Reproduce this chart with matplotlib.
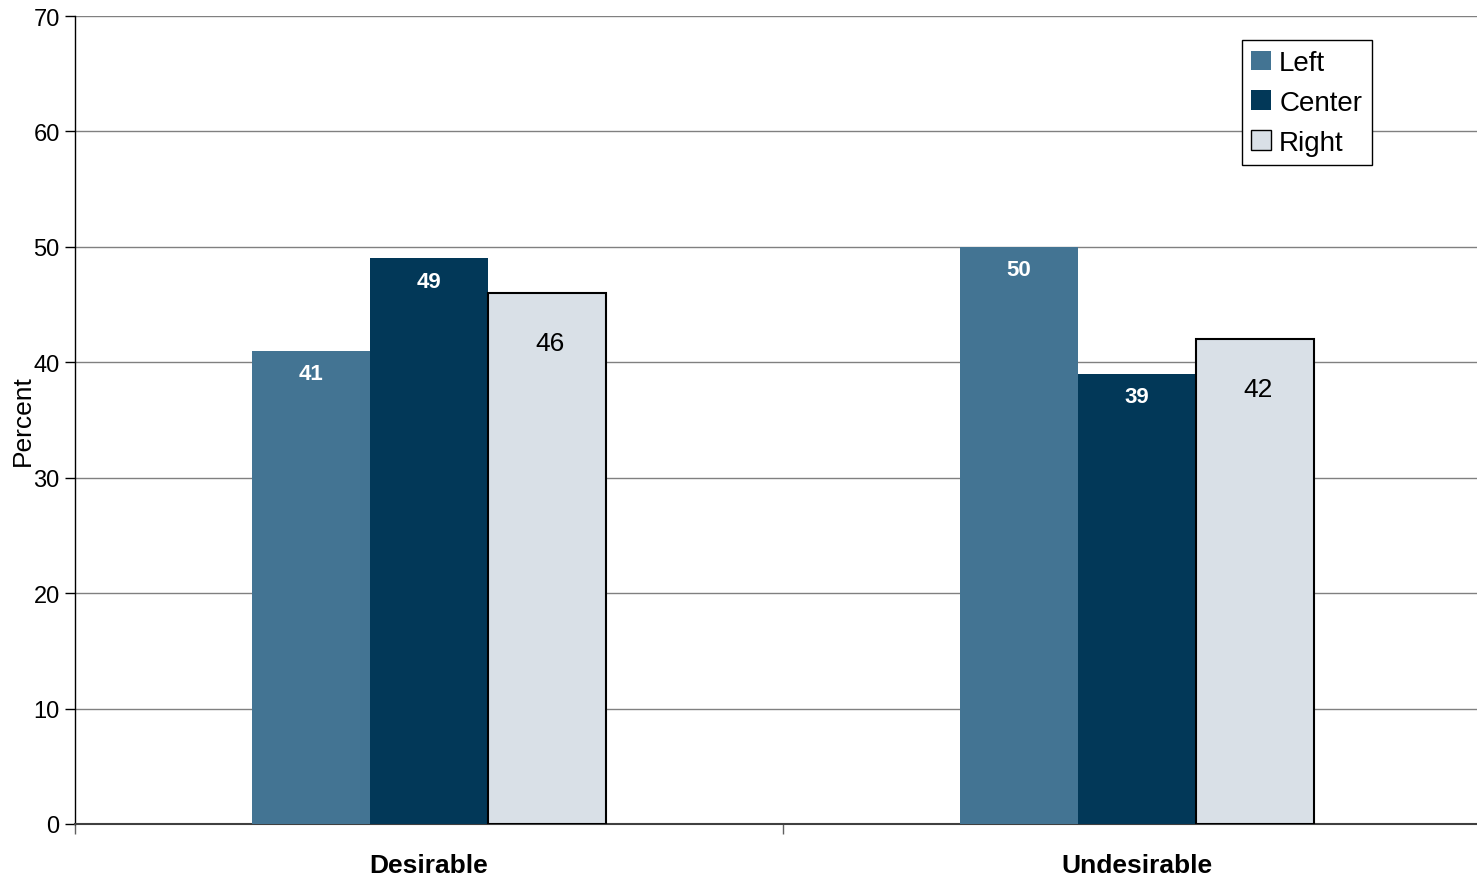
import numpy as np
import matplotlib.pyplot as plt

plt.rcParams['font.family'] = ['Liberation Sans', 'DejaVu Sans']

categories = ['Desirable', 'Undesirable']
series = ['Left', 'Center', 'Right']
left_vals = [41, 50]
center_vals = [49, 39]
right_vals = [46, 42]
colors = ['#437493', '#023858', '#d9e0e7']

fig = plt.figure(figsize=(14.77, 8.79), dpi=100)
ax = fig.add_axes([75/1477, 54/879, 1402/1477, 808/879])

x = np.arange(len(categories))
w = 1/6.
offsets = [-w, 0, w]
values = [left_vals, center_vals, right_vals]

for i, (name, vals) in enumerate(zip(series, values)):
    edge = 'black' if name == 'Right' else 'none'
    bars = ax.bar(x + offsets[i], vals, w, color=colors[i], edgecolor=edge,
                  linewidth=1.5 if name == 'Right' else 0, label=name, zorder=3)
    for b, v in zip(bars, vals):
        cx = b.get_x() + b.get_width()/2
        if name == 'Right':
            ax.annotate(str(v), (cx, v), xytext=(3, -50), textcoords='offset pixels',
                        ha='center', va='center', fontsize=19, color='black', zorder=4)
        else:
            ax.annotate(str(v), (cx, v), xytext=(0, -23), textcoords='offset pixels',
                        ha='center', va='center', fontsize=16, color='white',
                        fontweight='bold', zorder=4)

ax.set_xlim(-0.5, 1.48)
ax.set_ylim(0, 70)
ax.set_yticks(np.arange(0, 71, 10))
ax.yaxis.grid(True, color='#808080', linewidth=1, zorder=0)
ax.tick_params(axis='y', labelsize=17, length=7, width=1, pad=4)

ax.set_xticks([-0.5, 0.5])
ax.set_xticklabels(['', ''])
ax.tick_params(axis='x', which='major', length=7, width=1, color='#606060')
ax.set_xticks(x, minor=True)
ax.set_xticklabels(categories, minor=True, fontsize=19, fontweight='bold')
ax.tick_params(axis='x', which='minor', length=0, pad=21)

ax.spines['top'].set_visible(False)
ax.spines['right'].set_visible(False)
ax.spines['bottom'].set_color('#404040')
ax.spines['bottom'].set_linewidth(1.5)
ax.spines['left'].set_linewidth(1)

ax.set_ylabel('Percent', fontsize=19, labelpad=-1)

leg = ax.legend(loc='upper right', bbox_to_anchor=(0.925, 0.970), fontsize=20,
                frameon=True, fancybox=False, edgecolor='black', framealpha=1,
                handlelength=0.7, handleheight=0.7, handletextpad=0.3,
                labelspacing=0.5, borderpad=0.35, borderaxespad=0)
leg.get_frame().set_linewidth(1)
for h in leg.legend_handles:
    h.set_linewidth(1)

fig.savefig('out.png', dpi=100)
